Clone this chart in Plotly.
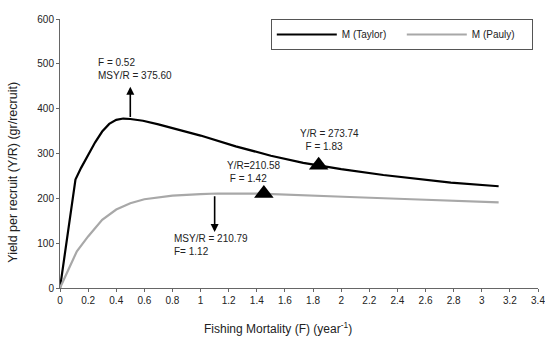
import plotly.graph_objects as go

# ---- data ----
taylor_F = [0, 0.11, 0.15, 0.2, 0.25, 0.3, 0.35, 0.4, 0.45, 0.5, 0.59, 0.7, 0.8, 1.0, 1.25, 1.5, 1.73, 2.0, 2.3, 2.54, 2.78, 3.12]
taylor_Y = [0, 242, 268, 297, 325, 349, 366, 375, 378, 377, 373, 365, 357, 340, 316, 295, 279, 265, 252, 243, 235, 227]

pauly_F = [0, 0.12, 0.2, 0.3, 0.4, 0.5, 0.6, 0.8, 1.0, 1.12, 1.42, 1.73, 2.06, 2.5, 3.12]
pauly_Y = [0, 82, 115, 152, 175, 189, 198, 206, 209.5, 210.8, 210.6, 207.6, 203, 198, 191]

marker_F = [1.45, 1.84]
marker_Y = [210.58, 273.74]

x_ticks = [0, 0.2, 0.4, 0.6, 0.8, 1, 1.2, 1.4, 1.6, 1.8, 2, 2.2, 2.4, 2.6, 2.8, 3, 3.2, 3.4]
x_tick_text = ["0", "0.2", "0.4", "0.6", "0.8", "1", "1.2", "1.4", "1.6", "1.8", "2", "2.2", "2.4", "2.6", "2.8", "3", "3.2", "3.4"]
y_ticks = [0, 100, 200, 300, 400, 500, 600]

FONT = "Liberation Sans, Arial, sans-serif"

fig = go.Figure()
fig.add_trace(go.Scatter(x=taylor_F, y=taylor_Y, mode="lines", name="M (Taylor)",
                         line=dict(color="#000000", width=2.2)))
fig.add_trace(go.Scatter(x=pauly_F, y=pauly_Y, mode="lines", name="M (Pauly)",
                         line=dict(color="#a8a8a8", width=2.2)))
fig.add_trace(go.Scatter(x=marker_F, y=marker_Y, mode="markers", showlegend=False,
                         marker=dict(symbol="triangle-up", size=17, color="#000000")))

ann = []
# arrows
ann.append(dict(x=0.5, y=449, ax=0.5, ay=378, xref="x", yref="y", axref="x", ayref="y",
                showarrow=True, arrowhead=2, arrowsize=1, arrowwidth=1.6, arrowcolor="#000", text=""))
ann.append(dict(x=1.1, y=125, ax=1.1, ay=208, xref="x", yref="y", axref="x", ayref="y",
                showarrow=True, arrowhead=2, arrowsize=1, arrowwidth=1.6, arrowcolor="#000", text=""))
# labels
labels = [
    ("F = 0.52<br>MSY/R = 375.60", 0.254, 488, "left"),
    ("MSY/R = 210.79<br>F= 1.12", 0.80, 96, "left"),
    ("Y/R=210.58<br> F = 1.42", 1.173, 259, "left"),
    ("Y/R = 273.74<br>  F = 1.83", 1.693, 330, "left"),
]
for t, x, y, al in labels:
    ann.append(dict(x=x, y=y, xref="x", yref="y", text=t, showarrow=False, align=al,
                    xanchor="left", yanchor="middle", font=dict(family=FONT, size=10, color="#222")))
# axis titles
ann.append(dict(x=0.456, y=-0.149, xref="paper", yref="paper", showarrow=False,
                text="Fishing Mortality (F) (year<sup>-1</sup>)", xanchor="center", yanchor="middle",
                font=dict(family=FONT, size=12, color="#222")))
ann.append(dict(x=-0.099, y=0.431, xref="paper", yref="paper", showarrow=False, textangle=-90,
                text="Yield per recruit (Y/R) (gr/recruit)", xanchor="center", yanchor="middle",
                font=dict(family=FONT, size=12.5, color="#222")))

fig.update_layout(
    width=545, height=337,
    margin=dict(l=60, r=7, t=19, b=49, autoexpand=False),
    paper_bgcolor="white", plot_bgcolor="white",
    font=dict(family=FONT, size=10, color="#222"),
    annotations=ann,
    legend=dict(orientation="h", x=0.441, xanchor="left", y=1, yanchor="top",
                bordercolor="#555", borderwidth=1, itemwidth=60,
                entrywidth=55, font=dict(family=FONT, size=10, color="#222"),
                bgcolor="white"),
)
fig.update_xaxes(range=[0, 3.4], tickmode="array", tickvals=x_ticks, ticktext=x_tick_text,
                 showgrid=False, zeroline=False, showline=True, linecolor="#666", linewidth=1,
                 ticks="outside", ticklen=3, tickcolor="#666", tickfont=dict(size=10),
                 ticklabeloverflow="allow")
fig.update_yaxes(range=[0, 600], tickmode="array", tickvals=y_ticks,
                 showgrid=False, zeroline=False, showline=True, linecolor="#666", linewidth=1,
                 ticks="outside", ticklen=3, tickcolor="#666", tickfont=dict(size=10),
                 ticklabeloverflow="allow")

fig.write_html("out.html", config={"displayModeBar": False},
               post_script="document.body.style.margin='0';")
